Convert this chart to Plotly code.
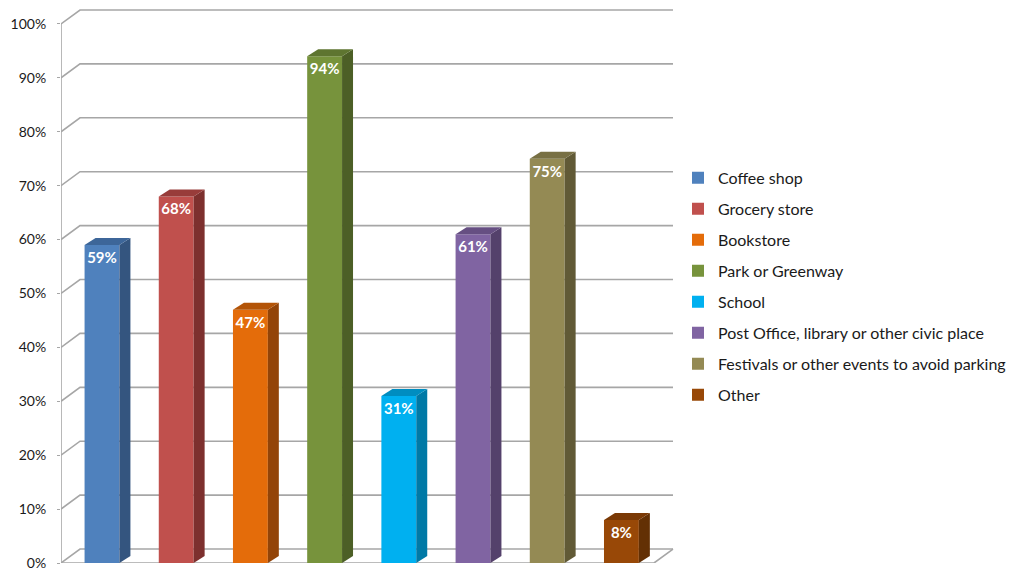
import plotly.graph_objects as go

categories = ["Coffee shop", "Grocery store", "Bookstore", "Park or Greenway", "School",
              "Post Office, library or other civic place",
              "Festivals or other events to avoid parking", "Other"]
values = [59, 68, 47, 94, 31, 61, 75, 8]
front_colors = ["#4F81BD", "#C0504D", "#E46C0A", "#77933C", "#00B0F0", "#8064A2", "#948A54", "#984807"]
side_colors = ["#34557F", "#7D302E", "#934408", "#4C5F26", "#0079A6", "#54416B", "#615A36", "#633004"]
top_colors = ["#3D6699", "#983C3A", "#B35407", "#5E7530", "#008DC0", "#664F82", "#787044", "#7A3905"]
tick_vals = [0, 10, 20, 30, 40, 50, 60, 70, 80, 90, 100]

# geometry (axis units)
XMIN, XMAX = -0.5526, 7.722
WALL_X = 7.695
WDX, WDY = 0.256, 2.59     # wall depth offset
BW = 0.47                  # bar width
BDX, BDY = 0.148, 1.29     # bar depth offset
YMAX = 102.96
GRID = "#a6a6a6"

fig = go.Figure()

for i, (name, v) in enumerate(zip(categories, values)):
    fig.add_trace(go.Bar(
        x=[i], y=[v], width=BW, name=name, legendgroup=name,
        marker=dict(color=front_colors[i], line=dict(width=0)),
        text=[f"{v}%"], textposition="inside", insidetextanchor="end",
        textangle=0, constraintext="none",
        textfont=dict(color="white", size=15, family="Lato", weight="bold"),
    ))

for i, v in enumerate(values):
    r = i + BW / 2
    l = i - BW / 2
    # side face
    fig.add_trace(go.Scatter(
        x=[r, r + BDX, r + BDX, r, r], y=[0, BDY, v + BDY, v, 0],
        mode="lines", fill="toself", fillcolor=side_colors[i],
        line=dict(width=0, color=side_colors[i]), showlegend=False, hoverinfo="skip"))
    # top face
    fig.add_trace(go.Scatter(
        x=[l, l + BDX, r + BDX, r, l], y=[v, v + BDY, v + BDY, v, v],
        mode="lines", fill="toself", fillcolor=top_colors[i],
        line=dict(width=0, color=top_colors[i]), showlegend=False, hoverinfo="skip"))

shapes = []
for t in tick_vals:
    shapes.append(dict(type="path", xref="x", yref="y", layer="below",
                       path=f"M{XMIN},{t} L{XMIN + WDX},{t + WDY} L{WALL_X},{t + WDY}",
                       line=dict(color=GRID, width=1.6)))
# axis line
shapes.append(dict(type="line", xref="x", yref="y", layer="below",
                   x0=XMIN, x1=XMIN, y0=0, y1=100, line=dict(color=GRID, width=1.6)))
# floor front edge
shapes.append(dict(type="path", xref="x", yref="y", layer="below",
                   path=f"M{XMIN},0 L{WALL_X - WDX},0 L{WALL_X},{WDY}",
                   line=dict(color=GRID, width=1.6)))
fig.update_layout(shapes=shapes)

fig.update_layout(
    width=1010, height=563,
    margin=dict(l=53, r=343, t=0, b=6),
    paper_bgcolor="white", plot_bgcolor="white",
    barmode="overlay",
    showlegend=True,
    legend=dict(x=(678 - 61) / 614, xanchor="left", y=0.7246, yanchor="top",
                font=dict(family="Lato", size=16, color="#1a1a1a"),
                tracegroupgap=7.2, traceorder="grouped",
                bgcolor="rgba(0,0,0,0)"),
    xaxis=dict(range=[XMIN, XMAX], visible=False, fixedrange=True),
    yaxis=dict(range=[0, YMAX], tickvals=tick_vals, ticktext=[f"{t}%" for t in tick_vals],
               showgrid=False, zeroline=False, showline=False,
               ticks="outside", ticklen=3, tickcolor=GRID, ticklabelstandoff=8,
               ticklabeloverflow="allow",
               tickfont=dict(family="Lato", size=14, color="#1a1a1a")),
)

fig.write_html("out.html")
